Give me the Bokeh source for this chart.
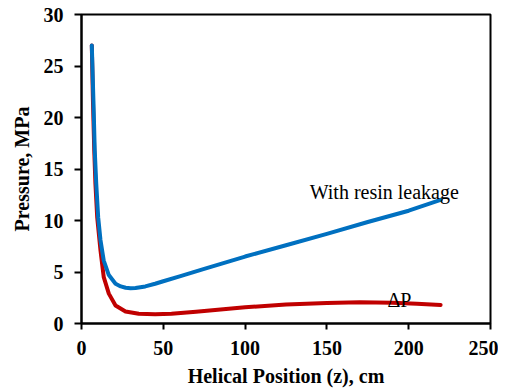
from bokeh.plotting import figure
from bokeh.models import Range1d, Label, FixedTicker
from bokeh.embed import file_html
from bokeh.resources import INLINE

# Data
z_leak = [6.3, 7.3, 8.1, 9.0, 10.2, 11.6, 13.6, 16.7, 20.8, 24, 27, 30, 33, 39, 45, 50, 60.5, 75, 100, 125, 150, 175, 200, 219.5]
p_leak = [27.0, 21.6, 16.8, 13.6, 10.3, 8.1, 6.1, 4.7, 3.86, 3.6, 3.47, 3.43, 3.45, 3.6, 3.86, 4.1, 4.6, 5.3, 6.5, 7.6, 8.7, 9.85, 10.95, 12.0]

z_dp = [6.3, 7.0, 7.8, 8.5, 9.6, 11.6, 13.6, 16.7, 20.8, 26.9, 35, 45, 55, 70, 85, 100, 125, 150, 170, 190, 205, 219.5]
p_dp = [27.0, 21.6, 16.8, 13.6, 10.3, 7.1, 4.5, 2.9, 1.75, 1.17, 0.94, 0.9, 0.95, 1.15, 1.37, 1.58, 1.84, 2.0, 2.06, 2.02, 1.92, 1.8]

x_ticks = [0, 50, 100, 150, 200, 250]
y_ticks = [0, 5, 10, 15, 20, 25, 30]

FONT = "Liberation Serif"

p = figure(width=498, height=389, output_backend="svg", toolbar_location=None,
           x_range=Range1d(0, 250), y_range=Range1d(0, 30),
           min_border_left=81, min_border_right=8, min_border_top=14, min_border_bottom=66)

p.xgrid.visible = False
p.ygrid.visible = False
p.outline_line_color = "black"
p.outline_line_width = 2
p.background_fill_color = "white"
p.border_fill_color = "white"

p.line(z_dp, p_dp, line_color="#C00000", line_width=4, line_join="round", line_cap="round")
p.line(z_leak, p_leak, line_color="#0070C0", line_width=4, line_join="round", line_cap="round")

for ax in (p.xaxis[0], p.yaxis[0]):
    ax.axis_line_color = "black"
    ax.axis_line_width = 2
    ax.major_tick_line_color = "black"
    ax.major_tick_line_width = 2
    ax.major_tick_in = 0
    ax.minor_tick_line_color = None
    ax.major_label_text_font = FONT
    ax.major_label_text_font_style = "bold"
    ax.major_label_text_font_size = "20px"
    ax.major_label_text_color = "black"
    ax.axis_label_text_font = FONT
    ax.axis_label_text_font_style = "bold"
    ax.axis_label_text_font_size = "20px"
    ax.axis_label_text_color = "black"

p.xaxis[0].ticker = FixedTicker(ticks=x_ticks)
p.yaxis[0].ticker = FixedTicker(ticks=y_ticks)
p.xaxis[0].major_tick_out = 6
p.yaxis[0].major_tick_out = 7
p.xaxis[0].major_label_standoff = 11
p.yaxis[0].major_label_standoff = 11
p.xaxis[0].axis_label = "Helical Position (z), cm"
p.yaxis[0].axis_label = "Pressure, MPa"
p.xaxis[0].axis_label_standoff = 7
p.yaxis[0].axis_label_standoff = 8

p.add_layout(Label(x=139.5, y=12.8, text="With resin leakage", text_font=FONT,
                   text_font_size="20px", text_color="black",
                   text_align="left", text_baseline="alphabetic"))
p.add_layout(Label(x=187, y=2.3, text="ΔP", text_font=FONT,
                   text_font_size="20px", text_color="black",
                   text_align="left", text_baseline="alphabetic"))

open("out.html", "w").write(file_html(p, INLINE))
